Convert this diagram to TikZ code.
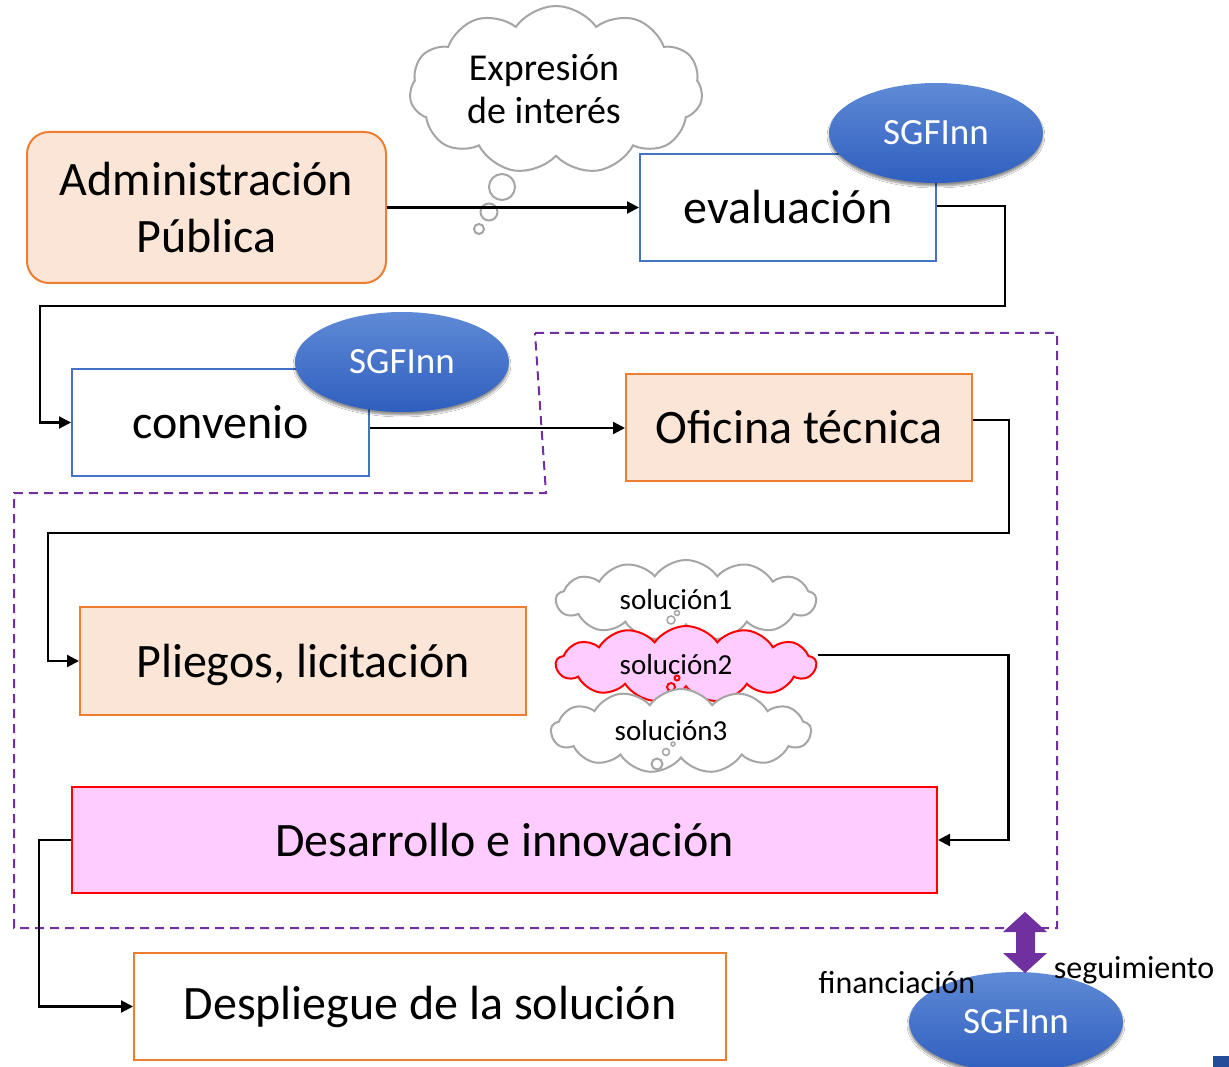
\documentclass[tikz,border=0pt]{standalone}
\usepackage{fontspec}
\setmainfont{Carlito}
\usetikzlibrary{shapes.symbols,shapes.geometric,shadows.blur,arrows.meta,calc}
\definecolor{peach}{HTML}{FBE5D6}
\definecolor{orng}{HTML}{ED7D31}
\definecolor{bluebd}{HTML}{4472C4}
\definecolor{pinkf}{HTML}{FFCCFF}
\definecolor{purp}{HTML}{7030A0}
\definecolor{cgray}{HTML}{A5A5A5}
\definecolor{sgtop}{HTML}{5F8AD6}
\definecolor{sgbot}{HTML}{2F5FBF}
\begin{document}
\begin{tikzpicture}[x=1pt,y=-1pt,
  bigtext/.style={font=\fontsize{48}{57}\selectfont, align=center},
  orangebox/.style={draw=orng, fill=peach, line width=2pt, inner sep=0pt, bigtext},
  bluebox/.style={draw=bluebd, fill=white, line width=2pt, inner sep=0pt, bigtext},
  sgf/.style={ellipse, draw=none, top color=sgtop, bottom color=sgbot, text=white,
    minimum width=214pt, minimum height=100pt, inner sep=0pt,
    font=\fontsize{37}{40}\selectfont,
    blur shadow={shadow xshift=0pt, shadow yshift=-3pt, shadow blur steps=6, shadow opacity=45}},
  thought/.style={cloud, cloud puffs=11, cloud puff arc=110, cloud ignores aspect,
    draw=cgray, fill=white, line width=2pt, inner sep=0pt},
  bub/.style={draw=cgray, fill=white, line width=2pt},
  soltext/.style={font=\fontsize{29}{32}\selectfont},
  arr/.style={draw=black, line width=2.2pt, -{Triangle[length=12pt,width=12pt]}},
  lbl/.style={font=\fontsize{32}{36}\selectfont}
]
\path[use as bounding box] (0,0) rectangle (1229,1067);
\fill[white] (0,0) rectangle (1229,1067);

% dashed region
\draw[purp, line width=2pt, dash pattern=on 9pt off 6pt]
  (535,333) -- (1057,333) -- (1057,928) -- (14,928) -- (14,493) -- (546,493) -- cycle;

% Expresion cloud
\node[thought, minimum width=293pt, minimum height=168pt] (expr) at (556,90) {};
\node[font=\fontsize{38}{43}\selectfont, align=center] (exprtext) at (544,89) {Expresión\\de interés};
\draw[bub] (502,187) circle[radius=13];
\draw[bub] (489,212) circle[radius=8.5];
\draw[bub] (479,229) circle[radius=5];

% nodes
\node[orangebox, rounded corners=22pt, minimum width=359pt, minimum height=151pt] (admin) at (206.5,207.5) {Administración\\Pública};
\node[bluebox, minimum width=296pt, minimum height=107pt] (eval) at (788,207.5) {evaluación};
\node[sgf] (sg1) at (936,133) {SGFInn};

\node[bluebox, minimum width=297pt, minimum height=107pt] (conv) at (220.5,422.5) {convenio};
\node[sgf] (sg2) at (402,362) {SGFInn};

\node[orangebox, minimum width=346pt, minimum height=107pt] (ofi) at (799,427.5) {Oficina técnica};
\node[orangebox, minimum width=446pt, minimum height=108pt, text depth=0pt] (pli) at (303,661) {Pliegos, licitación};

% solution clouds
\node[thought, cloud puffs=13, minimum width=260pt, minimum height=80pt] (sol1) at (686,600) {};
\node[soltext] (s1t) at (676,600) {solución1};
\draw[bub, line width=1.5pt] (671,620) circle[radius=4];
\draw[bub, line width=1.5pt] (677,613) circle[radius=2.5];
\node[thought, cloud puffs=13, draw=red, fill=pinkf, minimum width=260pt, minimum height=76pt] (sol2) at (686,664) {};
\node[soltext] (s2t) at (676,665) {solución2};
\draw[red, fill=pinkf, line width=2pt] (671,687) circle[radius=4];
\draw[red, fill=pinkf, line width=2pt] (677,678) circle[radius=2.5];
\node[thought, cloud puffs=13, minimum width=260pt, minimum height=84pt] (sol3) at (681,731) {};
\node[soltext] (s3t) at (671,731) {solución3};
\draw[bub] (657,764) circle[radius=5.5];
\draw[bub, line width=1.5pt] (666,752) circle[radius=3.5];
\draw[bub, line width=1.5pt] (673,744) circle[radius=2];

\node[draw=red, fill=pinkf, line width=2pt, inner sep=0pt, bigtext, minimum width=865pt, minimum height=106pt] (des) at (504.5,840) {Desarrollo e innovación};
\node[draw=orng, fill=white, line width=2pt, inner sep=0pt, bigtext, minimum width=592pt, minimum height=107pt] (desp) at (430,1006.5) {Despliegue de la solución};

% connectors
\coordinate (convout) at ([yshift=-5.5pt]conv.east);
\coordinate (evalout) at ([yshift=1.5pt]eval.east);
\coordinate (ofiout) at ([yshift=7.5pt]ofi.east);
\coordinate (solout) at ([yshift=9pt]sol2.east);
\draw[arr] (admin.east) -- (eval.west);
\draw[arr] (evalout) -- ++(68,0) |- (40,306) |- (conv.west);
\draw[arr] (convout) -- (ofi.west |- convout);
\draw[arr] (ofiout) -- ++(36,0) |- (48,533) |- (pli.west);
\draw[arr] (solout) -- ++(191,0) |- (des.east);
\draw[arr] (des.west) -- ++(-32,0) |- (desp.west);

% bottom SGFInn
\node[sgf] (sg3) at (1016,1022) {SGFInn};
\fill[purp] (1025,912) -- (1047,932) -- (1035,932) -- (1035,953) -- (1047,953) -- (1025,973)
  -- (1003,953) -- (1016,953) -- (1016,932) -- (1003,932) -- cycle;
\node[lbl] (fin) at (897,983) {financiación};
\node[lbl] (seg) at (1134,970) {seguimiento};

\fill[sgbot!80!black] (1213,1056) rectangle (1229,1067);
\end{tikzpicture}
\end{document}
